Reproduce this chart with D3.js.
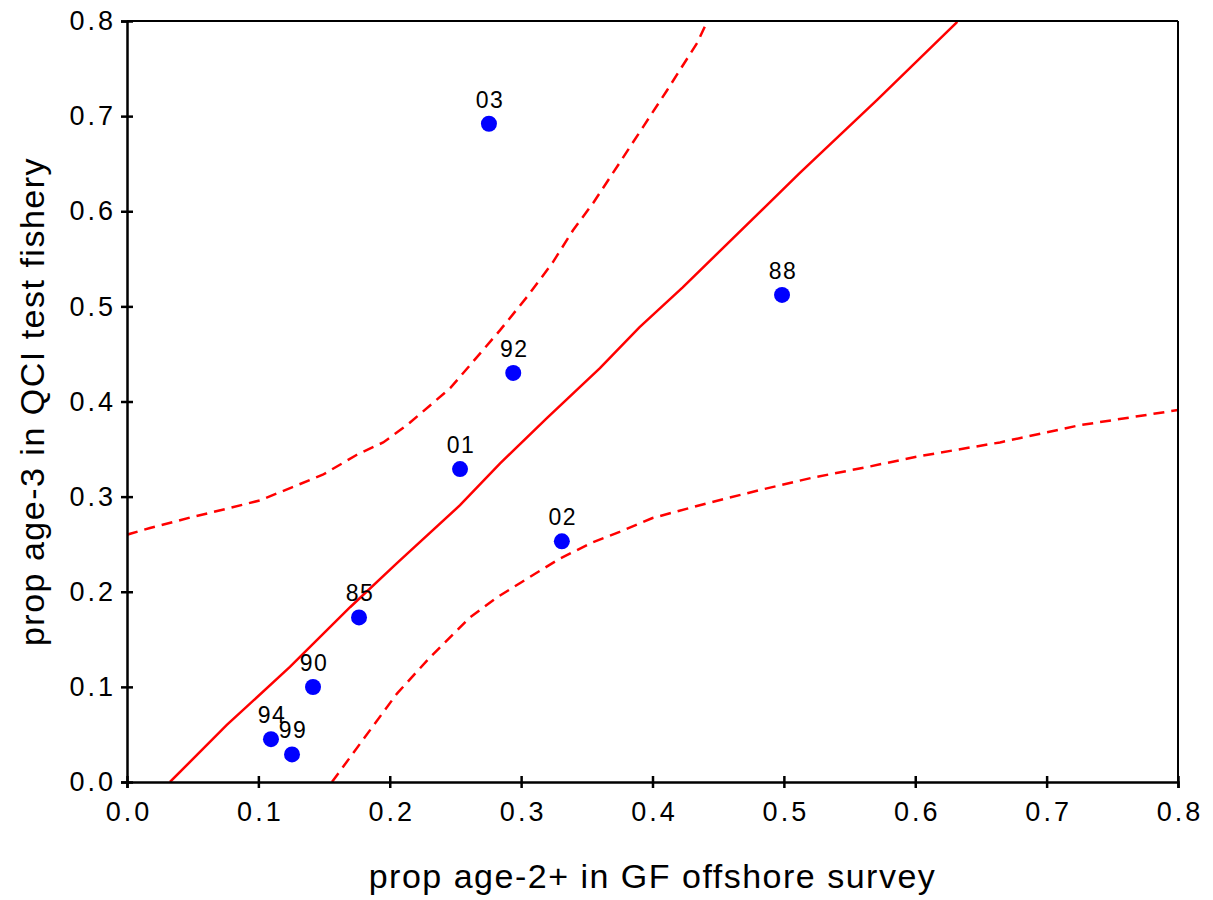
<!DOCTYPE html>
<html>
<head>
<meta charset="utf-8">
<script src="https://cdn.jsdelivr.net/npm/d3@7.9.0/dist/d3.min.js"></script>
<style>
  body { margin: 0; background: #fff; }
  svg { display: block; font-family: Arial, "Liberation Sans", sans-serif; }
</style>
</head>
<body>
<svg id="chart" width="1213" height="900"></svg>
<script>
// year labels and survey / test fishery proportions
const years = ['03', '88', '92', '01', '02', '85', '90', '94', '99'];
const propSurvey = [0.2755, 0.4986, 0.294, 0.2535, 0.331, 0.1766, 0.1416, 0.1096, 0.1256];
const propFishery = [0.692, 0.512, 0.430, 0.329, 0.253, 0.173, 0.0999, 0.045, 0.029];

// fitted line
const fitX = [0.0327, 0.076, 0.124, 0.170, 0.2055, 0.2535, 0.284, 0.320, 0.360, 0.390, 0.423, 0.512, 0.571, 0.632];
const fitY = [0.0, 0.060, 0.121, 0.184, 0.230, 0.291, 0.335, 0.383, 0.435, 0.478, 0.520, 0.640, 0.717, 0.799];

// upper bound (dashed)
const upperX = [0.0, 0.0175, 0.048, 0.078, 0.101, 0.126, 0.149, 0.175, 0.195, 0.213, 0.246, 0.2535, 0.284, 0.3045, 0.324, 0.3395, 0.355, 0.365, 0.375, 0.393, 0.411, 0.434, 0.4415];
const upperY = [0.260, 0.267, 0.278, 0.288, 0.296, 0.310, 0.323, 0.344, 0.357, 0.375, 0.414, 0.426, 0.475, 0.510, 0.546, 0.580, 0.609, 0.630, 0.651, 0.689, 0.727, 0.777, 0.799];

// lower bound (dashed)
const lowerX = [0.156, 0.181, 0.2055, 0.2306, 0.261, 0.2816, 0.299, 0.3296, 0.3547, 0.375, 0.400, 0.4415, 0.482, 0.522, 0.563, 0.601, 0.6645, 0.725, 0.8];
const lowerY = [0.0, 0.047, 0.093, 0.131, 0.173, 0.194, 0.209, 0.235, 0.252, 0.263, 0.2775, 0.293, 0.307, 0.320, 0.331, 0.342, 0.357, 0.375, 0.391];

const ticks = [0, 0.1, 0.2, 0.3, 0.4, 0.5, 0.6, 0.7, 0.8];

const svg = d3.select('#chart');
const plotLeft = 127, plotRight = 1178, plotTop = 21, plotBottom = 782;
const tickSpacing = 3;

const x = d3.scaleLinear().domain([0, 0.8]).range([plotLeft, plotRight]);
const y = d3.scaleLinear().domain([0, 0.8]).range([plotBottom, plotTop]);

svg.append('defs').append('clipPath').attr('id', 'plot-clip')
  .append('rect').attr('x', plotLeft).attr('y', plotTop)
  .attr('width', plotRight - plotLeft).attr('height', plotBottom - plotTop);

const line = d3.line().x(d => x(d[0])).y(d => y(d[1]));
const plot = svg.append('g').attr('clip-path', 'url(#plot-clip)');

plot.append('path')
  .attr('d', line(d3.zip(fitX, fitY)))
  .attr('fill', 'none').attr('stroke', '#ff0000').attr('stroke-width', 2.5);

[[upperX, upperY], [lowerX, lowerY]].forEach(([xs, ys]) => {
  plot.append('path')
    .attr('d', line(d3.zip(xs, ys)))
    .attr('fill', 'none').attr('stroke', '#ff0000').attr('stroke-width', 2.5)
    .attr('stroke-dasharray', '11,7');
});

// frame
svg.append('line').attr('x1', plotLeft).attr('x2', plotRight).attr('y1', plotTop).attr('y2', plotTop)
  .attr('stroke', '#000').attr('stroke-width', 2);
svg.append('line').attr('x1', plotRight).attr('x2', plotRight).attr('y1', plotTop).attr('y2', plotBottom)
  .attr('stroke', '#000').attr('stroke-width', 2);

// axes with ticks crossing the axis line
const xAxis = svg.append('g').attr('transform', `translate(0,${plotBottom})`)
  .call(d3.axisBottom(x).tickValues(ticks).tickFormat(d3.format('.1f')).tickSize(6).tickPadding(14));
const yAxis = svg.append('g').attr('transform', `translate(${plotLeft},0)`)
  .call(d3.axisLeft(y).tickValues(ticks).tickFormat(d3.format('.1f')).tickSize(6).tickPadding(5));

[xAxis, yAxis].forEach(g => {
  g.select('.domain').attr('stroke', '#000').attr('stroke-width', 2.5);
  g.selectAll('.tick line').attr('stroke', '#000').attr('stroke-width', 2.5);
  g.selectAll('.tick text').attr('font-size', 27).attr('fill', '#000')
    .attr('letter-spacing', tickSpacing)
    .attr('font-family', 'Arial, "Liberation Sans", sans-serif');
});
xAxis.selectAll('.tick line').attr('y1', -6);
xAxis.selectAll('.tick text').attr('dx', tickSpacing / 2);
yAxis.selectAll('.tick line').attr('x1', 6);

// points and labels
const pts = d3.zip(years, propSurvey, propFishery);
svg.selectAll('circle.pt').data(pts).join('circle')
  .attr('class', 'pt')
  .attr('cx', d => x(d[1])).attr('cy', d => y(d[2])).attr('r', 8)
  .attr('fill', '#0000ff');

svg.selectAll('text.lbl').data(pts).join('text')
  .attr('class', 'lbl')
  .attr('x', d => x(d[1]) + 1).attr('y', d => y(d[2]) - 16)
  .attr('text-anchor', 'middle')
  .attr('font-size', 23).attr('letter-spacing', 1.5)
  .attr('fill', '#000')
  .text(d => d[0]);

// axis titles
svg.append('text')
  .attr('x', (plotLeft + plotRight) / 2).attr('y', 888)
  .attr('text-anchor', 'middle').attr('font-size', 34).attr('letter-spacing', 1.5)
  .text('prop age-2+ in GF offshore survey');

svg.append('text')
  .attr('transform', `translate(44,${(plotTop + plotBottom) / 2}) rotate(-90)`)
  .attr('text-anchor', 'middle').attr('font-size', 34).attr('letter-spacing', 1.5)
  .text('prop age-3 in QCI test fishery');
</script>
</body>
</html>
